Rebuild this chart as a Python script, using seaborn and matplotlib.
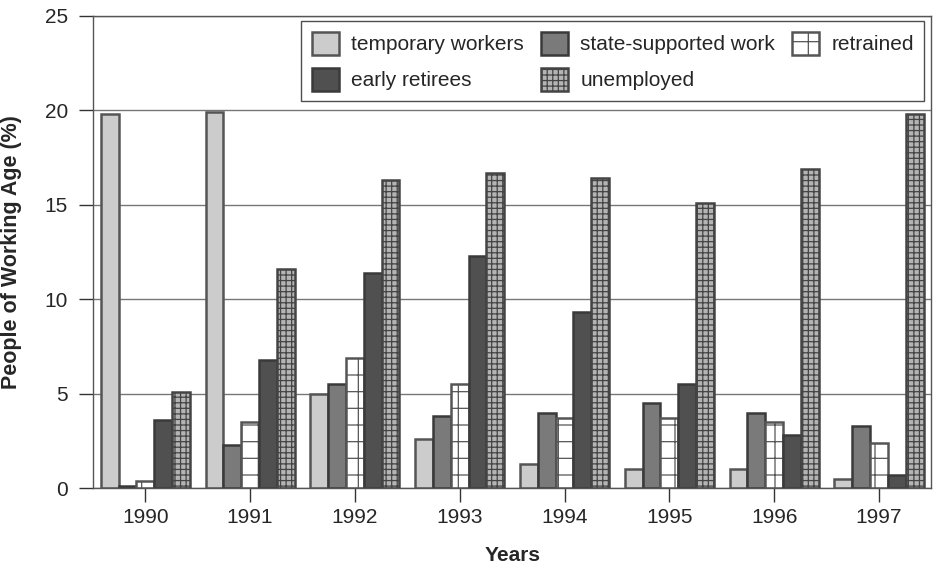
import matplotlib
matplotlib.use("Agg")
import matplotlib.pyplot as plt
import pandas as pd
import seaborn as sns

years = ["1990", "1991", "1992", "1993", "1994", "1995", "1996", "1997"]
series = ["temporary workers", "state-supported work", "retrained",
          "early retirees", "unemployed"]
temporary = [19.8, 19.9, 5.0, 2.6, 1.3, 1.0, 1.0, 0.5]
state_supported = [0.1, 2.3, 5.5, 3.8, 4.0, 4.5, 4.0, 3.3]
retrained = [0.4, 3.5, 6.9, 5.5, 3.7, 3.7, 3.5, 2.4]
early_retirees = [3.6, 6.8, 11.4, 12.3, 9.3, 5.5, 2.8, 0.7]
unemployed = [5.1, 11.6, 16.3, 16.7, 16.4, 15.1, 16.9, 19.8]

values = [temporary, state_supported, retrained, early_retirees, unemployed]
rows = []
for name, vals in zip(series, values):
    for y, v in zip(years, vals):
        rows.append({"year": y, "series": name, "value": v})
df = pd.DataFrame(rows)

sns.set_style("white")
plt.rcParams["font.family"] = ["Liberation Sans", "DejaVu Sans"]
plt.rcParams["hatch.linewidth"] = 0.9

faces = ["#cccccc", "#7a7a7a", "#ffffff", "#505050", "#b4b4b4"]
edges = ["#555555", "#3a3a3a", "#555555", "#3a3a3a", "#444444"]
hatches = ["", "", "+", "", "+++"]

fig = plt.figure(figsize=(9.38, 5.67), dpi=100)
ax = fig.add_axes([0.099, 0.139, 0.894, 0.833])
sns.barplot(data=df, x="year", y="value", hue="series", hue_order=series,
            palette=faces, width=0.85, legend=False, ax=ax, saturation=1)

for cont, ec, h in zip(ax.containers, edges, hatches):
    for p in cont:
        p.set_edgecolor(ec)
        p.set_linewidth(1.8)
        p.set_hatch(h)

ax.set_ylim(0, 25)
ax.set_yticks([0, 5, 10, 15, 20, 25])
ax.yaxis.grid(True, color="#777777", linewidth=1)
ax.set_axisbelow(True)
for s in ax.spines.values():
    s.set_color("#555555")
    s.set_linewidth(1)
ax.tick_params(axis="x", bottom=True, length=10, width=1, color="#333333",
               labelsize=15, pad=4)
ax.tick_params(axis="y", left=True, length=10, width=1, color="#333333",
               labelsize=15, pad=8)
ax.set_xlabel("Years", fontsize=15, fontweight="bold", labelpad=14)
ax.set_ylabel("People of Working Age (%)", fontsize=15.5, fontweight="bold",
              labelpad=16)

c = ax.containers
order = [0, 3, 1, 4, 2]
leg = ax.legend([c[i] for i in order], [series[i] for i in order], ncol=3,
                loc="upper right", bbox_to_anchor=(0.9965, 0.997), fontsize=15,
                frameon=True, fancybox=False, edgecolor="#222222",
                handlelength=1.3, handleheight=1.3, columnspacing=0.8,
                borderpad=0.5, labelspacing=0.65, handletextpad=0.6,
                borderaxespad=0.2)
leg.get_frame().set_linewidth(1)

fig.savefig("out.png", dpi=100)
